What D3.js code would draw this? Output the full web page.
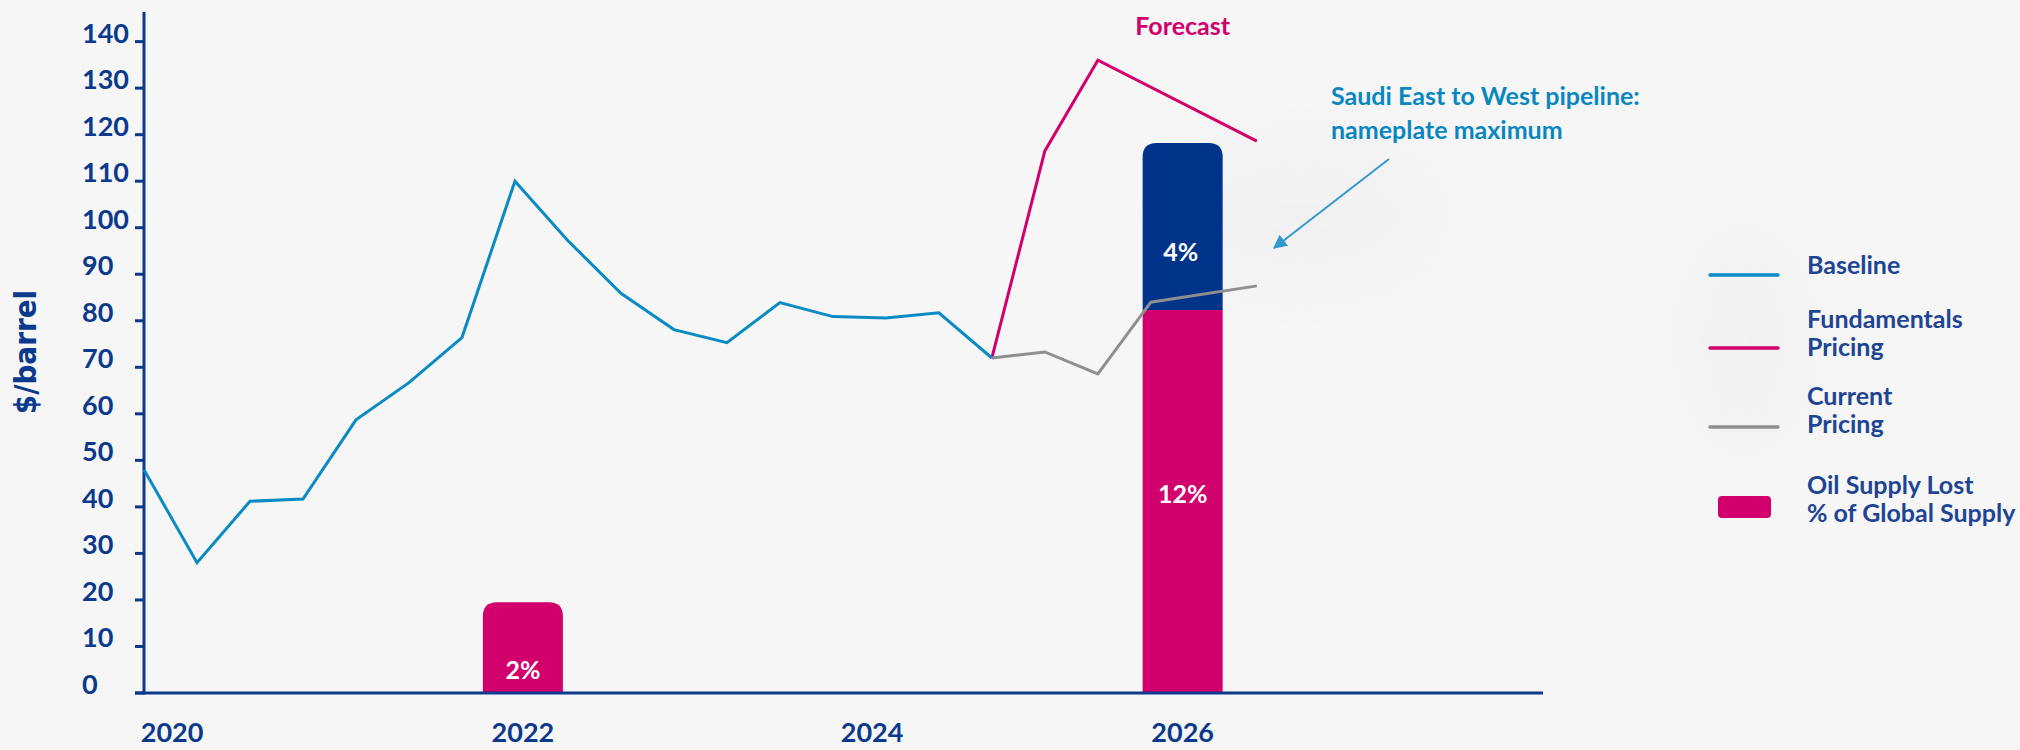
<!DOCTYPE html>
<html>
<head>
<meta charset="utf-8">
<script src="https://cdn.jsdelivr.net/npm/d3@7"></script>
<style>
body{margin:0;background:#f6f6f6;}
text{font-family:Lato,"Open Sans",sans-serif;font-weight:700;}
</style>
</head>
<body>
<div id="graph"></div>
<script>
var width=2020;
var height=750;

// price series, one value per quarter step starting at 2020
var baseline=[48,28,41.2,41.7,58.7,66.7,76.4,110,97.2,85.9,78.1,75.3,83.9,80.9,80.6,81.7,72];
var fundIdx=[16,17,18,21];
var fundVals=[72,116.5,136,118.6];
var currIdx=[16,17,18,19,21];
var currVals=[72,73.3,68.6,84,87.5];

// bars (same $/barrel scale)
var barPos=[7.15,19.6];
var supplyLost=[19.5,82.3];
var supplyLabels=['2%','12%'];
var pipelineTop=[null,118.2];
var pipelineLabels=[null,'4%'];

var yTicks=[0,10,20,30,40,50,60,70,80,90,100,110,120,130,140];
var xTickPos=[0.53,7.15,13.74,19.6];
var xTickLabels=['2020','2022','2024','2026'];

var legendItems=['Baseline','Fundamentals|Pricing','Current|Pricing','Oil Supply Lost|% of Global Supply'];

var navy='#0b3a8c', pink='#d1006d', blue='#0a8bc3', grey='#8f8f8f', barNavy='#00338a';

var svg=d3.select('#graph').append('svg').attr('width',width).attr('height',height)
	.style('display','block');
svg.append('rect').attr('width',width).attr('height',height).attr('fill','#f6f6f6');

var defs=svg.append('defs');
defs.append('filter').attr('id','blur').attr('x','-50%').attr('y','-50%').attr('width','200%').attr('height','200%')
	.append('feGaussianBlur').attr('stdDeviation',28);
defs.append('marker').attr('id','arrow').attr('viewBox','0 0 10 10').attr('refX',9).attr('refY',5)
	.attr('markerWidth',7).attr('markerHeight',7).attr('orient','auto-start-reverse')
	.append('path').attr('d','M0,0 L10,5 L0,10 z').attr('fill','#3399cc');

// soft glows behind annotation and legend
svg.append('ellipse').attr('cx',1300).attr('cy',215).attr('rx',140).attr('ry',80)
	.attr('fill','#eeebef').attr('opacity',0.45).attr('filter','url(#blur)');
svg.append('ellipse').attr('cx',1745).attr('cy',340).attr('rx',60).attr('ry',110)
	.attr('fill','#eeecef').attr('opacity',0.5).attr('filter','url(#blur)');

var x=d3.scaleLinear().domain([0,26.4]).range([144,1543]);
var y=d3.scaleLinear().domain([0,140]).range([693,41.6]);

// y axis
var yAxis=svg.append('g');
yAxis.append('line').attr('x1',x(0)).attr('x2',x(0)).attr('y1',12).attr('y2',y(0)+1.5)
	.attr('stroke',navy).attr('stroke-width',3);
yAxis.selectAll('.tick').data(yTicks).enter().append('line')
	.attr('x1',x(0)-9).attr('x2',x(0)).attr('y1',function(d){return y(d);}).attr('y2',function(d){return y(d);})
	.attr('stroke',navy).attr('stroke-width',3);
yAxis.selectAll('.lab').data(yTicks).enter().append('text')
	.attr('x',82).attr('y',function(d){return y(d)+1;})
	.attr('fill',navy).style('font-size','27px').text(function(d){return d;});
svg.append('text').attr('transform','translate(36,352) rotate(-90)').attr('text-anchor','middle')
	.attr('fill',navy).style('font-family','"Liberation Sans Narrow","DejaVu Sans Condensed",sans-serif')
	.style('font-size','31px').text('$/barrel');

// bars
function roundTop(x0,x1,yt,yb,r){
	return 'M'+x0+','+yb+'V'+(yt+r)+'Q'+x0+','+yt+' '+(x0+r)+','+yt+'H'+(x1-r)+'Q'+x1+','+yt+' '+x1+','+(yt+r)+'V'+yb+'Z';
}
var bw=0.755;
svg.selectAll('.pipe').data(barPos).enter().filter(function(d,i){return pipelineTop[i]!=null;})
	.append('path').attr('fill',barNavy)
	.attr('d',function(d){var i=barPos.indexOf(d);return roundTop(x(d-bw),x(d+bw),y(pipelineTop[i]),y(supplyLost[i]),14);});
svg.selectAll('.supply').data(barPos).enter().append('path').attr('fill',pink)
	.attr('d',function(d,i){
		if(pipelineTop[i]!=null) return 'M'+x(d-bw)+','+y(0)+'V'+y(supplyLost[i])+'H'+x(d+bw)+'V'+y(0)+'Z';
		return roundTop(x(d-bw),x(d+bw),y(supplyLost[i]),y(0),14);
	});
svg.selectAll('.slab').data(barPos).enter().append('text')
	.attr('x',function(d){return x(d);})
	.attr('y',function(d,i){return pipelineTop[i]!=null?y(supplyLost[i]/2)+1:y(0)-14;})
	.attr('text-anchor','middle').attr('fill','#fff').style('font-size','25px')
	.text(function(d,i){return supplyLabels[i];});
svg.selectAll('.plab').data(barPos).enter().filter(function(d,i){return pipelineLabels[i]!=null;})
	.append('text').attr('x',function(d){return x(d)-2;})
	.attr('y',function(d){var i=barPos.indexOf(d);return y(supplyLost[i])-49;})
	.attr('text-anchor','middle').attr('fill','#fff').style('font-size','25px')
	.text(function(d){return pipelineLabels[barPos.indexOf(d)];});

// x axis
svg.append('line').attr('x1',x(0)-9).attr('x2',x.range()[1]).attr('y1',y(0)).attr('y2',y(0))
	.attr('stroke',navy).attr('stroke-width',3);
svg.selectAll('.xlab').data(xTickPos).enter().append('text')
	.attr('x',function(d){return x(d);}).attr('y',742).attr('text-anchor','middle')
	.attr('fill',navy).style('font-size','27px').text(function(d,i){return xTickLabels[i];});

// lines
var line=d3.line().x(function(d){return x(d[0]);}).y(function(d){return y(d[1]);});
svg.append('path').datum(d3.zip(fundIdx,fundVals)).attr('d',line)
	.attr('fill','none').attr('stroke',pink).attr('stroke-width',3).attr('stroke-linejoin','miter');
svg.append('path').datum(d3.zip(currIdx,currVals)).attr('d',line)
	.attr('fill','none').attr('stroke',grey).attr('stroke-width',3);
svg.append('path').datum(baseline.map(function(v,i){return [i,v];})).attr('d',line)
	.attr('fill','none').attr('stroke',blue).attr('stroke-width',3);

// annotations
svg.append('text').attr('x',x(19.6)).attr('y',35).attr('text-anchor','middle')
	.attr('fill',pink).style('font-size','25px').text('Forecast');
var note=svg.append('text').attr('fill','#0a87c0').style('font-size','25px');
note.append('tspan').attr('x',1331).attr('y',105).text('Saudi East to West pipeline:');
note.append('tspan').attr('x',1331).attr('y',139).text('nameplate maximum');
svg.append('line').attr('x1',1389).attr('y1',159).attr('x2',1274).attr('y2',248)
	.attr('stroke','#3399cc').attr('stroke-width',2).attr('marker-end','url(#arrow)');

// legend
var legY=[275,348,427,507];
var lg=svg.append('g');
legendItems.forEach(function(t,i){
	var parts=t.split('|');
	if(i<3){
		lg.append('line').attr('x1',1710).attr('x2',1778).attr('y1',legY[i]).attr('y2',legY[i])
			.attr('stroke',[blue,pink,grey][i]).attr('stroke-width',3.5).attr('stroke-linecap','round');
	}else{
		lg.append('rect').attr('x',1718).attr('y',496).attr('width',53).attr('height',22).attr('rx',4).attr('fill',pink);
	}
	var base=parts.length==1?legY[i]-1:[328,405,494][i-1];
	var tx=lg.append('text').attr('fill','#1e4593').style('font-size','25px');
	parts.forEach(function(p,j){
		tx.append('tspan').attr('x',1807).attr('y',base+j*27.5).text(p);
	});
});
</script>
</body>
</html>
